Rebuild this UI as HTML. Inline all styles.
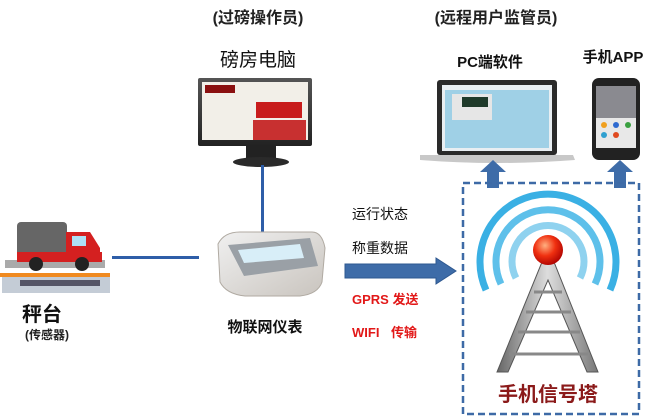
<!DOCTYPE html>
<html><head><meta charset="utf-8"><style>
html,body{margin:0;padding:0;background:#fff;width:650px;height:420px;overflow:hidden}
svg text{font-family:"Liberation Sans","Noto Sans CJK SC",sans-serif}
</style></head><body>
<svg width="650" height="420" viewBox="0 0 650 420" xmlns="http://www.w3.org/2000/svg">
<defs>
<linearGradient id="bz" x1="0" y1="0" x2="0" y2="1"><stop offset="0" stop-color="#555"/><stop offset="1" stop-color="#222"/></linearGradient>
<linearGradient id="sc" x1="0" y1="0" x2="1" y2="1"><stop offset="0" stop-color="#f0f0f0"/><stop offset="1" stop-color="#c9c4be"/></linearGradient>
<linearGradient id="tw" x1="0" y1="0" x2="1" y2="0"><stop offset="0" stop-color="#666"/><stop offset=".5" stop-color="#ddd"/><stop offset="1" stop-color="#777"/></linearGradient>
<radialGradient id="ball" cx=".4" cy=".35" r=".7"><stop offset="0" stop-color="#ffb080"/><stop offset=".5" stop-color="#f03010"/><stop offset="1" stop-color="#a00"/></radialGradient>
</defs>

<text x="258" y="23" font-size="16" font-weight="bold" text-anchor="middle" fill="#222">(过磅操作员)</text>
<text x="496" y="23" font-size="16" font-weight="bold" text-anchor="middle" fill="#222">(远程用户监管员)</text>
<text x="258" y="66" font-size="19" text-anchor="middle" fill="#111">磅房电脑</text>
<text x="490" y="67" font-size="15" font-weight="bold" text-anchor="middle" fill="#111">PC端软件</text>
<text x="613" y="62" font-size="15" font-weight="bold" text-anchor="middle" fill="#111">手机APP</text>

<!-- monitor -->
<rect x="246" y="145" width="30" height="15" fill="#222"/>
<ellipse cx="261" cy="162" rx="28" ry="5" fill="#2a2a2a"/>
<rect x="198" y="78" width="114" height="68" rx="2" fill="url(#bz)"/>
<rect x="202" y="82" width="106" height="58" fill="#f2efe8"/>
<rect x="205" y="85" width="30" height="8" fill="#8a1010"/>
<rect x="256" y="102" width="46" height="16" fill="#c81c1c"/>
<rect x="253" y="120" width="53" height="20" fill="#c83030"/>
<rect x="261" y="165" width="3" height="68" fill="#2e5ea8"/>

<!-- laptop -->
<rect x="437" y="80" width="120" height="75" rx="3" fill="#2a2a2a"/>
<rect x="442" y="85" width="110" height="66" fill="#e8eef2"/>
<rect x="445" y="90" width="104" height="58" fill="#9fd0e6"/>
<rect x="452" y="94" width="40" height="26" fill="#e6e6e6"/>
<rect x="462" y="97" width="26" height="10" fill="#1f3a2a"/>
<path d="M420 155 L573 155 L575 160 Q497 166 420 160 Z" fill="#c8c8c8"/>
<!-- phone -->
<rect x="592" y="78" width="48" height="82" rx="7" fill="#222"/>
<rect x="596" y="86" width="40" height="62" fill="#8a8a90"/>
<rect x="596" y="118" width="40" height="30" fill="#e8e8e8"/>
<circle cx="604" cy="125" r="3" fill="#f0a020"/><circle cx="616" cy="125" r="3" fill="#2f6ad0"/><circle cx="628" cy="125" r="3" fill="#3aa040"/>
<circle cx="604" cy="135" r="3" fill="#30a0d0"/><circle cx="616" cy="135" r="3" fill="#e04a20"/>
<path d="M487 188 L487 172 L480 172 L493 160 L506 172 L499 172 L499 188 Z" fill="#3e6ca8"/>
<path d="M614 188 L614 172 L607 172 L620 160 L633 172 L626 172 L626 188 Z" fill="#3e6ca8"/>

<rect x="463" y="183" width="176" height="231" fill="none" stroke="#3d6aa6" stroke-width="2.5" stroke-dasharray="7,4"/>

<!-- tower -->
<g fill="none" stroke-width="7">
<path d="M516 278 A36 36 0 1 1 580 278" stroke="#8fd2ef"/>
<path d="M501 284 A52 52 0 1 1 595 284" stroke="#5ec0ea"/>
<path d="M486 290 A68 68 0 1 1 610 290" stroke="#3ab0e4"/>
</g>
<path d="M542 262 L554 262 L598 372 L587 372 L548 280 L508 372 L497 372 Z" fill="url(#tw)" stroke="#555" stroke-width="1"/>
<g stroke="#888" stroke-width="3">
<line x1="534" y1="292" x2="562" y2="292"/><line x1="526" y1="312" x2="571" y2="312"/>
<line x1="518" y1="332" x2="580" y2="332"/><line x1="509" y1="354" x2="588" y2="354"/>
</g>
<circle cx="548" cy="250" r="15" fill="url(#ball)"/>
<text x="548" y="401" font-size="20" font-weight="bold" text-anchor="middle" fill="#8b1a1a">手机信号塔</text>

<!-- truck -->
<rect x="5" y="260" width="100" height="8" fill="#aaa"/>
<rect x="2" y="275" width="108" height="18" fill="#c4ccd6"/>
<rect x="0" y="273" width="110" height="4" fill="#f08a20"/>
<rect x="20" y="280" width="80" height="6" fill="#556"/>
<rect x="17" y="222" width="50" height="36" rx="4" fill="#666"/>
<path d="M66 232 L90 232 L100 248 L100 262 L66 262 Z" fill="#d42020"/>
<rect x="72" y="236" width="14" height="10" fill="#aee0f5"/>
<rect x="17" y="252" width="85" height="10" fill="#d42020"/>
<circle cx="36" cy="264" r="7" fill="#222"/><circle cx="82" cy="264" r="7" fill="#222"/>
<rect x="112" y="256" width="87" height="3" fill="#2e5ea8"/>
<text x="42" y="321" font-size="20" font-weight="bold" text-anchor="middle" fill="#111">秤台</text>
<text x="47" y="339" font-size="12" font-weight="bold" text-anchor="middle" fill="#222">(传感器)</text>

<!-- instrument -->
<path d="M218 244 Q224 232 240 232 L312 232 Q322 232 325 248 L322 282 Q318 294 300 296 L245 296 Q226 294 220 282 Z" fill="url(#sc)" stroke="#b0aaa2"/>
<path d="M228 245 L310 238 L318 266 L244 276 Z" fill="#9aa0a6"/>
<path d="M238 250 L300 244 L304 258 L244 263 Z" fill="#d8eef8"/>
<text x="265" y="332" font-size="15" font-weight="bold" text-anchor="middle" fill="#111">物联网仪表</text>

<text x="352" y="219" font-size="14" fill="#111">运行状态</text>
<text x="352" y="253" font-size="14" fill="#111">称重数据</text>
<path d="M345 264 L436 264 L436 258 L456 271 L436 284 L436 278 L345 278 Z" fill="#3e6ca8" stroke="#2e5890"/>
<text x="352" y="304" font-size="13" font-weight="bold" fill="#e21818">GPRS 发送</text>
<text x="352" y="337" font-size="13" font-weight="bold" fill="#e21818">WIFI  <tspan dx="8">传输</tspan></text>
</svg>
</body></html>
